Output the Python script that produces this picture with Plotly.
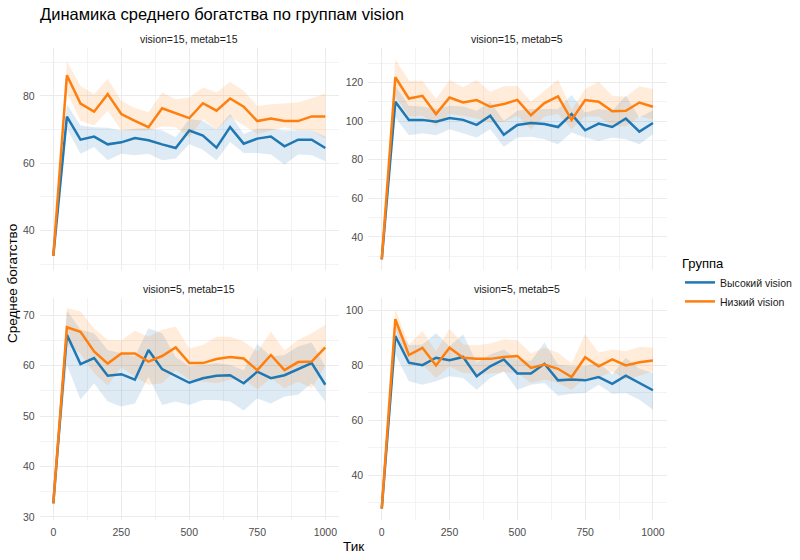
import plotly.graph_objects as go

# ---------------- data ----------------
ticks = [0, 50, 100, 150, 200, 250, 300, 350, 400, 450, 500, 550, 600, 650, 700, 750, 800, 850, 900, 950, 1000]

panel_titles = ["vision=15, metab=15", "vision=15, metab=5", "vision=5, metab=15", "vision=5, metab=5"]
group_names = ["Высокий vision", "Низкий vision"]

# vision=15, metab=15
a_high_mean = [32.5, 73.8, 67.0, 67.9, 65.6, 66.2, 67.5, 66.8, 65.6, 64.5, 69.7, 68.2, 64.6, 70.7, 65.8, 67.3, 67.9, 65.0, 67.0, 67.0, 64.5]
a_high_lo = [32.5, 70.2, 62.8, 64.8, 60.9, 62.8, 62.4, 62.8, 60.9, 61.4, 65.6, 64.0, 60.9, 66.3, 63.0, 63.0, 62.6, 59.6, 62.6, 62.4, 60.6]
a_high_hi = [32.5, 77.5, 71.2, 70.7, 70.5, 69.7, 70.2, 70.4, 69.7, 67.7, 73.1, 72.6, 69.9, 74.6, 68.7, 70.2, 70.2, 69.7, 69.7, 69.7, 67.9]
a_low_mean = [32.5, 86.1, 77.7, 75.3, 80.5, 74.6, 72.6, 70.7, 76.3, 74.9, 73.4, 77.8, 75.6, 79.2, 76.8, 72.5, 73.3, 72.5, 72.5, 73.9, 73.9]
a_low_lo = [32.5, 81.0, 72.6, 71.2, 75.6, 69.7, 69.7, 69.7, 70.9, 70.7, 67.7, 73.1, 69.9, 73.8, 71.2, 68.7, 69.7, 70.7, 69.7, 69.7, 67.3]
a_low_hi = [32.5, 90.3, 82.9, 80.5, 85.1, 78.5, 76.4, 75.1, 81.0, 79.0, 79.5, 82.5, 81.0, 84.1, 81.5, 77.0, 77.5, 77.7, 78.0, 79.3, 80.7]

# vision=15, metab=5
b_high_mean = [28.3, 110.1, 100.7, 100.7, 99.7, 101.7, 100.7, 98.1, 102.8, 93.0, 98.1, 99.1, 98.6, 97.0, 103.7, 95.3, 98.8, 97.0, 101.4, 94.6, 99.1]
b_high_lo = [28.3, 101.9, 92.7, 93.7, 92.7, 95.8, 93.7, 91.5, 95.8, 86.8, 91.5, 92.0, 90.6, 88.0, 94.1, 91.5, 89.7, 91.5, 90.6, 88.0, 93.2]
b_high_hi = [28.3, 118.4, 108.0, 107.7, 106.3, 108.0, 107.7, 105.4, 110.1, 100.2, 105.4, 106.3, 106.3, 106.3, 113.6, 104.5, 106.3, 105.4, 113.2, 101.9, 105.7]
b_low_mean = [28.3, 122.8, 111.8, 113.2, 103.7, 112.3, 109.7, 111.0, 107.5, 108.9, 111.1, 103.1, 109.4, 112.9, 100.7, 111.0, 110.1, 105.2, 105.4, 109.7, 107.5]
b_low_lo = [28.3, 113.0, 102.4, 102.8, 97.6, 103.7, 102.8, 101.4, 99.3, 99.7, 102.8, 95.8, 102.4, 103.7, 95.8, 102.4, 102.4, 97.6, 97.2, 102.4, 101.0]
b_low_hi = [28.3, 132.3, 121.0, 121.0, 111.5, 121.4, 117.6, 121.4, 115.3, 118.1, 118.4, 110.1, 115.8, 121.6, 105.9, 116.7, 120.5, 113.2, 112.7, 118.1, 116.7]

# vision=5, metab=15
c_high_mean = [32.7, 66.1, 60.3, 61.5, 58.0, 58.3, 57.2, 63.1, 59.3, 58.0, 56.6, 57.5, 58.0, 58.1, 56.5, 58.8, 57.5, 58.1, 59.3, 60.5, 56.2]
c_high_lo = [32.7, 60.1, 53.3, 56.5, 52.9, 51.9, 52.5, 57.8, 52.2, 52.9, 52.2, 53.2, 53.2, 52.9, 51.1, 53.5, 52.5, 53.9, 54.2, 56.5, 52.9]
c_high_hi = [32.7, 70.9, 67.1, 66.4, 63.1, 62.4, 61.8, 67.4, 66.4, 61.7, 59.8, 60.1, 60.5, 60.1, 59.1, 64.3, 61.8, 62.1, 63.8, 64.6, 59.8]
c_low_mean = [32.7, 67.6, 66.7, 62.8, 60.4, 62.4, 62.4, 60.8, 61.9, 63.6, 60.5, 60.5, 61.3, 61.7, 61.4, 59.1, 62.1, 59.1, 60.7, 60.8, 63.6]
c_low_lo = [32.7, 64.1, 62.4, 58.5, 56.0, 59.7, 57.8, 56.2, 56.5, 59.1, 57.2, 56.8, 56.5, 57.2, 57.3, 55.3, 57.5, 55.5, 56.8, 55.5, 59.8]
c_low_hi = [32.7, 71.4, 70.7, 67.4, 65.1, 65.0, 66.9, 65.7, 67.1, 67.7, 63.4, 64.1, 65.7, 65.7, 64.8, 62.8, 66.7, 63.0, 65.1, 66.4, 68.1]

# vision=5, metab=5
d_high_mean = [27.9, 90.6, 80.9, 80.0, 82.7, 81.8, 83.0, 76.0, 79.6, 82.1, 77.0, 77.0, 80.5, 74.5, 74.8, 74.5, 75.7, 73.2, 76.2, 73.5, 70.9]
d_high_lo = [27.9, 83.9, 74.2, 72.9, 74.2, 76.0, 75.4, 71.1, 75.4, 77.8, 71.1, 72.9, 73.5, 68.9, 69.6, 69.9, 72.9, 69.6, 69.9, 67.5, 63.8]
d_high_hi = [27.9, 94.9, 87.2, 87.5, 91.6, 86.9, 91.2, 80.9, 83.9, 85.7, 82.1, 81.5, 88.2, 80.2, 79.6, 79.6, 80.9, 76.6, 82.7, 78.7, 77.2]
d_low_mean = [27.9, 96.7, 83.7, 86.3, 79.9, 86.3, 82.7, 82.3, 82.3, 83.0, 83.3, 79.0, 80.2, 78.7, 75.7, 82.9, 79.6, 82.1, 79.9, 81.1, 81.7]
d_low_lo = [27.9, 93.6, 79.6, 80.2, 75.4, 79.6, 77.2, 77.0, 77.0, 77.4, 77.2, 73.5, 74.8, 73.5, 71.1, 75.4, 75.4, 77.8, 74.8, 76.2, 77.8]
d_low_hi = [27.9, 100.3, 87.5, 92.4, 85.1, 93.3, 87.5, 87.2, 87.9, 89.4, 89.1, 84.3, 86.3, 84.5, 80.6, 91.2, 84.5, 85.7, 85.1, 86.7, 86.3]

# ---------------- styling ----------------
W, H = 800, 560
FONT = "Liberation Sans"
colors = ["#1f77b4", "#ff7f0e"]
fills = ["rgba(31,119,180,0.15)", "rgba(255,127,14,0.15)"]

panels = [
    dict(data=[(a_high_mean, a_high_lo, a_high_hi), (a_low_mean, a_low_lo, a_low_hi)],
         xd=(39.7, 338.9), yd=(48, 270), yr=[28.3, 94.2], dt=20, mdt=10, xlab=False),
    dict(data=[(b_high_mean, b_high_lo, b_high_hi), (b_low_mean, b_low_lo, b_low_hi)],
         xd=(368.2, 666.5), yd=(48, 270), yr=[22.8, 138.0], dt=20, mdt=10, xlab=False),
    dict(data=[(c_high_mean, c_high_lo, c_high_hi), (c_low_mean, c_low_lo, c_low_hi)],
         xd=(39.7, 338.9), yd=(298, 520), yr=[29.4, 73.4], dt=10, mdt=5, xlab=True),
    dict(data=[(d_high_mean, d_high_lo, d_high_hi), (d_low_mean, d_low_lo, d_low_hi)],
         xd=(368.2, 666.5), yd=(298, 520), yr=[23.8, 104.4], dt=20, mdt=10, xlab=True),
]

fig = go.Figure()
layout = dict(
    width=W, height=H,
    margin=dict(l=0, r=0, t=0, b=0),
    paper_bgcolor="white", plot_bgcolor="white",
    font=dict(family=FONT, color="#1A1A1A"),
    showlegend=True,
)
annotations = []

for i, p in enumerate(panels):
    n = i + 1
    xa = "x" if n == 1 else f"x{n}"
    ya = "y" if n == 1 else f"y{n}"
    # ribbons
    for g, (m, lo, hi) in enumerate(p["data"]):
        fig.add_trace(go.Scatter(
            x=ticks + ticks[::-1], y=hi + lo[::-1], fill="toself",
            fillcolor=fills[g], line=dict(width=0), mode="lines",
            showlegend=False, hoverinfo="skip", xaxis=xa, yaxis=ya))
    # lines
    for g, (m, lo, hi) in enumerate(p["data"]):
        fig.add_trace(go.Scatter(
            x=ticks, y=m, mode="lines", name=group_names[g],
            line=dict(color=colors[g], width=2.5),
            showlegend=(i == 0), legendgroup=group_names[g],
            xaxis=xa, yaxis=ya))
    xkey = "xaxis" if n == 1 else f"xaxis{n}"
    ykey = "yaxis" if n == 1 else f"yaxis{n}"
    layout[xkey] = dict(
        domain=[p["xd"][0] / W, p["xd"][1] / W], anchor=ya,
        range=[-50, 1050], tickvals=[0, 250, 500, 750, 1000],
        showticklabels=p["xlab"], ticks="", ticklabelstandoff=4,
        tickfont=dict(size=10.5, color="#4D4D4D", family=FONT),
        showgrid=True, gridcolor="#EBEBEB", gridwidth=1.1,
        minor=dict(dtick=125, tick0=0, showgrid=True, gridcolor="#F3F3F3", gridwidth=0.7),
        zeroline=False, showline=False, automargin=False,
    )
    layout[ykey] = dict(
        domain=[1 - p["yd"][1] / H, 1 - p["yd"][0] / H], anchor=xa,
        range=p["yr"], dtick=p["dt"], tick0=0,
        ticks="", ticklabelstandoff=4,
        tickfont=dict(size=10.5, color="#4D4D4D", family=FONT),
        showgrid=True, gridcolor="#EBEBEB", gridwidth=1.1,
        minor=dict(dtick=p["mdt"], tick0=0, showgrid=True, gridcolor="#F3F3F3", gridwidth=0.7),
        zeroline=False, showline=False, automargin=False,
    )
    annotations.append(dict(
        text=panel_titles[i], xref="paper", yref="paper",
        x=(p["xd"][0] + p["xd"][1]) / 2 / W, y=1 - (p["yd"][0] - 9) / H,
        xanchor="center", yanchor="middle", showarrow=False,
        font=dict(size=10.5, color="#1A1A1A", family=FONT)))

annotations.append(dict(text="Тик", xref="paper", yref="paper",
                        x=353 / W, y=1 - 546 / H, xanchor="center", yanchor="middle",
                        showarrow=False, font=dict(size=13.5, color="#000000", family=FONT)))
annotations.append(dict(text="Среднее богатство", xref="paper", yref="paper",
                        x=12 / W, y=1 - 284 / H, xanchor="center", yanchor="middle",
                        textangle=-90, showarrow=False,
                        font=dict(size=13.5, color="#000000", family=FONT)))

layout["annotations"] = annotations
layout["title"] = dict(text="Динамика среднего богатства по группам vision",
                       x=40 / W, xanchor="left", y=1 - 14 / H, yanchor="middle",
                       font=dict(size=16.5, color="#000000", family=FONT))
layout["legend"] = dict(
    title=dict(text="Группа", font=dict(size=13, color="#000000", family=FONT)),
    x=680 / W, xanchor="left", y=1 - 251 / H, yanchor="top",
    font=dict(size=10.5, color="#1A1A1A", family=FONT),
    bgcolor="rgba(0,0,0,0)", tracegroupgap=0,
)

fig.update_layout(**layout)
fig.write_html("out.html")
